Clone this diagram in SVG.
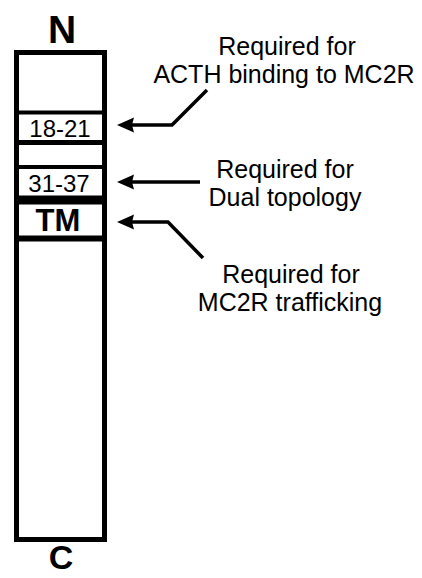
<svg xmlns="http://www.w3.org/2000/svg" width="422" height="578" viewBox="0 0 422 578">
<style>
.lbl{font-family:"Liberation Sans",Arial,sans-serif;font-size:25px;fill:#000;text-anchor:middle}
.seg{font-family:"Liberation Sans",Arial,sans-serif;font-size:24px;fill:#000;text-anchor:middle}
.bold{font-family:"Liberation Sans",Arial,sans-serif;font-weight:bold;fill:#000;text-anchor:middle}
.conn{fill:none;stroke:#000;stroke-width:3.5;stroke-linejoin:miter}
.band{stroke:#000;fill:none}
.head{fill:#000}
</style>
<defs>
<path id="ah" d="M0,0 L17,-7.5 L15,0 L17,7.5 Z"/>
</defs>
<rect width="422" height="578" fill="#fff"/>
<g id="protein">
<rect x="16.5" y="52.5" width="88" height="487" fill="#fff" stroke="#000" stroke-width="5"/>
<line class="band" x1="16" y1="112.5" x2="105" y2="112.5" stroke-width="4"/>
<line class="band" x1="16" y1="142.5" x2="105" y2="142.5" stroke-width="5"/>
<line class="band" x1="16" y1="167" x2="105" y2="167" stroke-width="4"/>
<line class="band" x1="16" y1="200" x2="105" y2="200" stroke-width="9"/>
<line class="band" x1="16" y1="238.5" x2="105" y2="238.5" stroke-width="6"/>
</g>
<g id="N"><text class="bold" x="62" y="43" font-size="39">N</text></g>
<g id="C"><text class="bold" x="61" y="569" font-size="34">C</text></g>
<g id="seg1"><text class="seg" x="60" y="137">18-21</text></g>
<g id="seg2"><text class="seg" x="59" y="192">31-37</text></g>
<g id="TM"><text class="bold" x="58" y="231" font-size="31">TM</text></g>
<g id="label1"><text class="lbl" x="287" y="55">Required for</text><text class="lbl" x="284" y="83">ACTH binding to MC2R</text></g>
<g id="label2"><text class="lbl" x="285" y="178">Required for</text><text class="lbl" x="285" y="206">Dual topology</text></g>
<g id="label3"><text class="lbl" x="291" y="283">Required for</text><text class="lbl" x="290" y="311">MC2R trafficking</text></g>
<g id="connectors">
<path class="conn" d="M207,90 L172,125 L130,125"/>
<use href="#ah" class="head" x="117" y="125"/>
<path class="conn" d="M200,182 L130,182"/>
<use href="#ah" class="head" x="117" y="182"/>
<path class="conn" d="M203,258 L168,222 L130,222"/>
<use href="#ah" class="head" x="117" y="222"/>
</g>
</svg>
